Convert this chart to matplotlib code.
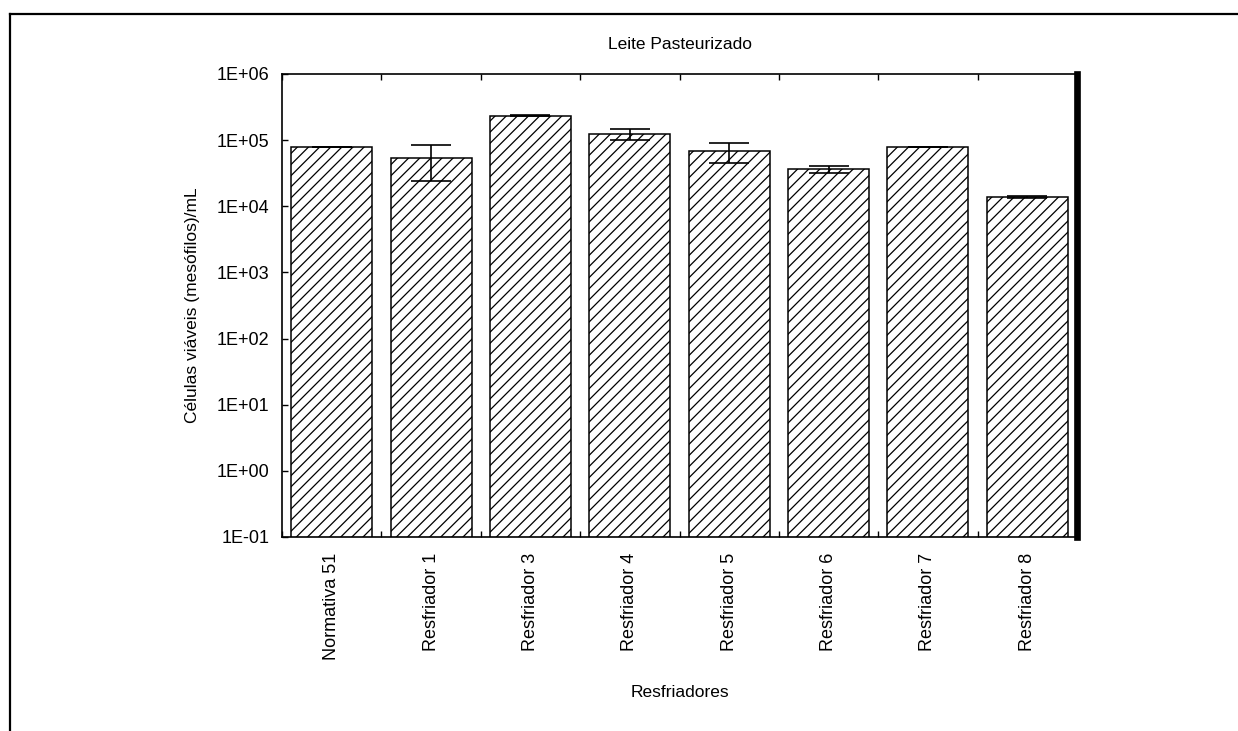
import matplotlib
matplotlib.use('Agg')
import matplotlib.pyplot as plt
from matplotlib.lines import Line2D
from matplotlib.ticker import FixedLocator, FuncFormatter, NullFormatter
import numpy as np

plt.rcParams['font.family'] = ['Liberation Sans', 'DejaVu Sans']
plt.rcParams['hatch.linewidth'] = 0.9

# dados
categorias = ['Normativa 51', 'Resfriador 1', 'Resfriador 3', 'Resfriador 4',
              'Resfriador 5', 'Resfriador 6', 'Resfriador 7', 'Resfriador 8']
medias = [80000, 53700, 234000, 124000, 68500, 36500, 78500, 13800]
desvios = [0, 29700, 3000, 25000, 23000, 4300, 800, 500]
y_ticks = [1e-1, 1e0, 1e1, 1e2, 1e3, 1e4, 1e5, 1e6]

fig = plt.figure(figsize=(12.38, 7.31), dpi=100)
ax = fig.add_axes([0.2278, 0.2654, 0.6422, 0.6334])

x = np.arange(len(categorias))
ax.bar(x, medias, width=0.815, color='white', edgecolor='black',
       linewidth=1.1, hatch='///', zorder=2)
ax.errorbar(x, medias, yerr=desvios, fmt='none', ecolor='black',
            elinewidth=1.2, capsize=14.5, capthick=1.2, zorder=3)

ax.set_yscale('log')
ax.set_ylim(1e-1, 1e6)
ax.set_xlim(-0.5, len(categorias) - 0.5)

ax.yaxis.set_major_locator(FixedLocator(y_ticks))
ax.yaxis.set_major_formatter(FuncFormatter(lambda v, p: f'{v:.0E}'))
ax.yaxis.set_minor_locator(FixedLocator([]))
ax.tick_params(axis='y', which='major', direction='in', length=4, width=1,
               labelsize=13, pad=9)

ax.set_xticks(x)
ax.set_xticklabels(categorias, rotation=90, fontsize=13)
ax.set_xticks(np.arange(len(categorias) + 1) - 0.5, minor=True)
ax.xaxis.set_minor_formatter(NullFormatter())
ax.tick_params(axis='x', which='major', length=0, pad=11.5)
ax.tick_params(axis='x', which='minor', direction='in', length=4, width=1,
               top=True, bottom=True)

for s in ['left', 'top', 'bottom']:
    ax.spines[s].set_linewidth(1.2)
ax.spines['right'].set_linewidth(4.8)

ax.set_title('Leite Pasteurizado', fontsize=12.5, pad=18)
ax.set_xlabel('Resfriadores', fontsize=12.5, labelpad=18)
ax.set_ylabel('Células viáveis (mesófilos)/mL', fontsize=12.5, labelpad=12)

# moldura da figura (so topo e esquerda visiveis)
fig.add_artist(Line2D([10 / 1238, 1.0], [1 - 14 / 731, 1 - 14 / 731],
                      transform=fig.transFigure, color='black', linewidth=1.6))
fig.add_artist(Line2D([10 / 1238, 10 / 1238], [0.0, 1 - 14 / 731],
                      transform=fig.transFigure, color='black', linewidth=1.6))

fig.savefig('out.png', dpi=100)
